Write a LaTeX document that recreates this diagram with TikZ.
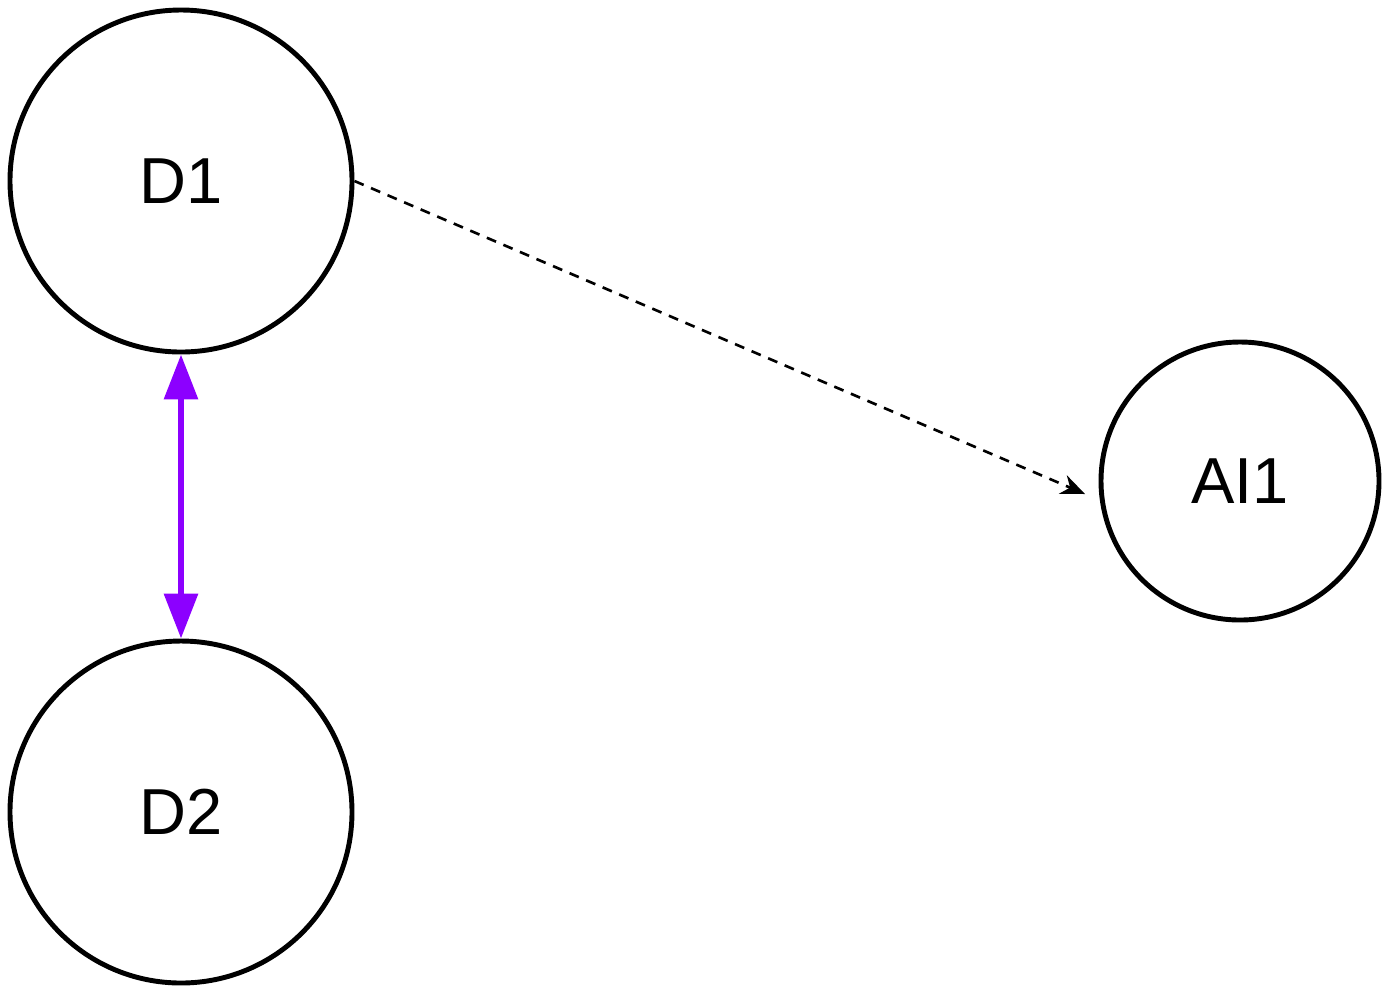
\documentclass[tikz,border=0pt]{standalone}
\usepackage{fontspec}
\setmainfont{Liberation Sans}
\usetikzlibrary{arrows.meta}
\definecolor{arrowpurple}{HTML}{8C00FF}
\begin{document}
\begin{tikzpicture}[x=1cm,y=1cm,
  state/.style={circle, draw=black, line width=1.4pt, inner sep=0pt,
    font=\fontsize{18.5}{22}\selectfont},
  big/.style={minimum size=3.42cm},
  small/.style={minimum size=2.78cm},
  link/.style={draw=arrowpurple, line width=1.8pt,
    {Triangle[length=0.45cm,width=0.33cm]}-{Triangle[length=0.45cm,width=0.33cm]}},
  flow/.style={draw=black, line width=0.75pt, dash pattern=on 0.1cm off 0.08cm,
    -{Stealth[length=0.24cm,width=0.2cm]}}
]
\useasboundingbox (0,0) rectangle (13.89,-9.95);
\node[state,big] (D1) at (1.81,-1.81) {D1};
\node[state,big] (D2) at (1.81,-8.12) {D2};
\node[state,small] (AI1) at (12.40,-4.81) {AI1};
\coordinate (e1) at (10.85,-4.94);
\draw[link] (D1.south) -- (D2.north);
\draw[flow] (D1.east) -- (e1);
\end{tikzpicture}
\end{document}
